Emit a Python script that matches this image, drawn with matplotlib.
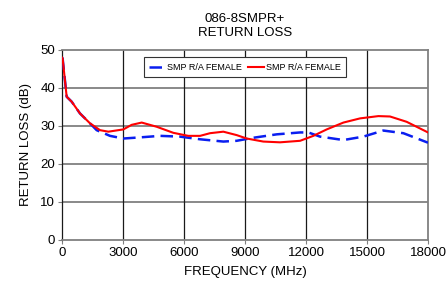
import numpy as np
import matplotlib.pyplot as plt

plt.rcParams['font.family'] = ['Liberation Sans', 'DejaVu Sans']

# Frequency (MHz) / return loss (dB)
freq_blue = [0, 30, 230, 475, 885, 1377, 1705, 2360, 3017, 3840, 4820, 5800, 6790,
             7935, 8590, 9410, 10560, 11710, 12115, 12690, 13840, 14820, 15800,
             16790, 18000]
rl_blue = [48, 47.8, 37.7, 36.4, 33.3, 30.7, 28.9, 27.4, 26.7, 27.0, 27.4, 27.2, 26.5,
           25.9, 26.1, 26.9, 27.8, 28.3, 28.3, 27.2, 26.3, 27.2, 28.8,
           28.1, 25.6]

freq_red = [0, 30, 230, 475, 885, 1377, 1870, 2280, 3017, 3425, 3920, 4655, 5475,
            6210, 6790, 7280, 7935, 8590, 9085, 9900, 10720, 11710, 12360, 13020,
            13840, 14660, 15560, 16130, 16950, 18000]
rl_red = [48, 47.8, 37.7, 36.4, 33.3, 30.7, 28.9, 28.5, 29.1, 30.3, 30.9, 29.8, 28.2,
          27.4, 27.4, 28.1, 28.5, 27.6, 26.7, 25.9, 25.7, 26.1, 27.4, 29.1,
          30.9, 32.0, 32.6, 32.5, 31.1, 28.3]

fig = plt.figure(figsize=(4.47, 2.85), dpi=100)
ax = fig.add_axes([0.1387, 0.158, 0.8188, 0.6666])

ax.plot(freq_blue, rl_blue, color='#0a1ef0', lw=1.8, dashes=(5, 2.5),
        label='SMP R/A FEMALE', zorder=3)
ax.plot(freq_red, rl_red, color='#ff0000', lw=1.5, label='SMP R/A FEMALE', zorder=4)

ax.set_xlim(0, 18000)
ax.set_ylim(0, 50)
ax.set_xticks(np.arange(0, 18001, 3000))
ax.set_yticks(np.arange(0, 51, 10))

for y in range(10, 50, 10):
    ax.axhline(y, color='#808080', lw=1.3, zorder=1)
for x in range(3000, 18000, 3000):
    ax.axvline(x, color='#1a1a1a', lw=0.9, zorder=1)

for s in ax.spines.values():
    s.set_color('#808080')
    s.set_linewidth(1.3)
ax.spines['left'].set_color('#1a1a1a')
ax.spines['left'].set_linewidth(0.9)

ax.tick_params(axis='both', labelsize=9.5, length=3, color='#808080', pad=2)
ax.set_xlabel('FREQUENCY (MHz)', fontsize=9.5, labelpad=5)
ax.set_ylabel('RETURN LOSS (dB)', fontsize=9.5, labelpad=6)
ax.set_title('086-8SMPR+\nRETURN LOSS', fontsize=9.5, linespacing=1.2, pad=10)

leg = ax.legend(loc='upper center', ncol=2, fontsize=6.5, frameon=True, fancybox=False,
                edgecolor='#333333', handlelength=1.8, columnspacing=0.6,
                handletextpad=0.2, bbox_to_anchor=(0.5, 0.985), borderpad=0.6)
leg.get_frame().set_linewidth(0.8)
leg.get_frame().set_facecolor('white')
leg.get_frame().set_alpha(1)

fig.savefig('out.png', dpi=100)
